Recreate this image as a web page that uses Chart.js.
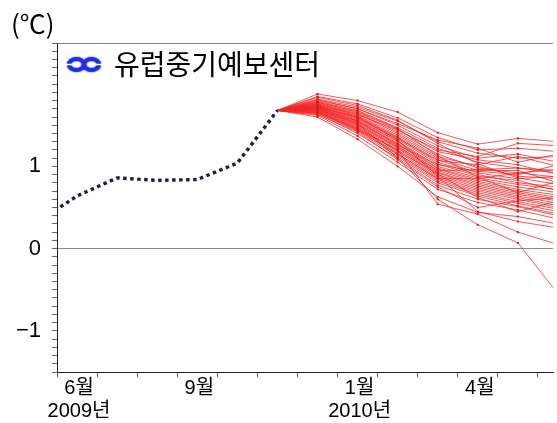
<!DOCTYPE html>
<html><head><meta charset="utf-8">
<script src="https://cdn.jsdelivr.net/npm/chart.js@4.4.1/dist/chart.umd.min.js"></script>
<style>html,body{margin:0;padding:0;background:#fff;overflow:hidden}#wrap{width:557px;height:423px;position:relative}</style>
</head><body><div id="wrap"><canvas id="c"></canvas></div>
<script>
// ---- data ----
const obsMonths = ['2009-05','2009-06','2009-07','2009-08','2009-09','2009-10','2009-11'];
const obsValues = [0.32, 0.64, 0.86, 0.83, 0.84, 1.04, 1.68];
const fcstMonths = ['2009-12','2010-01','2010-02','2010-03','2010-04','2010-05','2010-06'];
const members = [
  [1.88,1.80,1.66,1.41,1.27,1.34,1.30],
  [1.85,1.76,1.59,1.35,1.20,1.22,1.18],
  [1.82,1.72,1.55,1.30,1.16,1.10,1.12],
  [1.80,1.70,1.50,1.25,1.10,1.15,1.05],
  [1.79,1.68,1.47,1.22,1.05,0.98,0.95],
  [1.78,1.66,1.45,1.18,1.08,1.02,0.90],
  [1.77,1.65,1.42,1.15,0.98,0.92,0.96],
  [1.76,1.64,1.40,1.12,1.00,0.88,0.85],
  [1.76,1.62,1.38,1.10,0.95,0.95,0.80],
  [1.75,1.61,1.36,1.08,0.92,0.85,0.88],
  [1.74,1.60,1.35,1.05,0.90,0.80,0.75],
  [1.74,1.58,1.33,1.03,0.88,0.83,0.70],
  [1.73,1.57,1.31,1.00,0.86,0.78,0.72],
  [1.72,1.56,1.30,0.98,0.84,0.75,0.68],
  [1.72,1.55,1.28,0.97,0.82,0.72,0.65],
  [1.71,1.54,1.27,0.95,0.80,0.70,0.62],
  [1.70,1.53,1.25,0.93,0.78,0.68,0.60],
  [1.70,1.52,1.23,0.92,0.76,0.66,0.58],
  [1.69,1.50,1.22,0.90,0.74,0.64,0.55],
  [1.68,1.49,1.20,0.88,0.72,0.62,0.52],
  [1.68,1.48,1.18,0.86,0.70,0.60,0.50],
  [1.67,1.46,1.16,0.84,0.68,0.57,0.48],
  [1.66,1.45,1.14,0.82,0.66,0.55,0.45],
  [1.65,1.43,1.12,0.80,0.64,0.52,0.42],
  [1.64,1.40,1.10,0.77,0.60,0.51,0.40],
  [1.62,1.37,1.05,0.72,0.56,0.47,0.36],
  [1.60,1.33,1.00,0.63,0.44,0.39,0.30],
  [1.66,1.45,1.20,0.54,0.42,0.20,0.05],
  [1.70,1.52,1.10,0.60,0.29,0.07,-0.55],
  [1.75,1.63,1.44,1.20,1.12,1.28,1.25],
  [1.81,1.70,1.52,1.32,1.22,1.05,1.15],
  [1.73,1.59,1.34,1.07,1.02,1.12,1.00],
  [1.71,1.55,1.26,1.02,0.94,0.90,1.02],
  [1.69,1.51,1.24,0.95,0.96,0.98,0.92],
  [1.67,1.47,1.19,0.91,0.62,0.45,0.58],
  [1.63,1.42,1.08,0.75,0.50,0.58,0.62],
  [1.72,1.60,1.32,0.88,0.45,0.33,0.25],
  [1.78,1.67,1.46,1.13,0.87,0.68,0.82],
  [1.84,1.74,1.56,1.28,1.03,0.86,0.78],
  [1.65,1.44,1.15,0.85,0.85,0.92,0.87]
];
const axisMonths = ['2009-06','2009-09','2010-01','2010-04'];
const axisMonthLabels = ['6월','9월','1월','4월'];
const axisYearLabels = ['2009년','','2010년',''];
const yTickLabels = {'1':'1','0':'0','-1':'−1'};
const unitLabel = '(℃)';
const titleText = '유럽중기예보센터';

// month string -> month index from June 2009
function mIdx(s){const [y,m]=s.split('-').map(Number);return (y-2009)*12+(m-6);}
const obsData = obsMonths.map((m,i)=>({x:mIdx(m)+0.5,y:obsValues[i]}));
const lastObs = obsData[obsData.length-1];

const datasets = [{
  data: obsData, borderColor:'#1c1c50', borderWidth:3.4, borderDash:[3.5,3.5],
  borderCapStyle:'butt', pointRadius:0, tension:0, order:0
}];
members.forEach(mv=>{
  datasets.push({
    data:[{x:lastObs.x,y:lastObs.y}].concat(fcstMonths.map((m,i)=>({x:mIdx(m)+0.5,y:mv[i]}))),
    borderColor:'rgba(242,38,38,0.78)', borderWidth:1, tension:0,
    pointStyle:'rect', pointRadius:c=>c.dataIndex===0?0:1.4,
    pointBackgroundColor:'#dd1818', pointBorderWidth:0, order:1
  });
});

const labelPos = axisMonths.map(m=>mIdx(m)+0.55);

const deco = {
  id:'deco',
  afterDraw(chart){
    const ctx=chart.ctx; ctx.save();
    ctx.fillStyle='#000'; ctx.textBaseline='middle';
    ctx.font="26px 'Noto Sans CJK KR', sans-serif";
    ctx.fillText(unitLabel, 11, 24);
    ctx.font="28px 'Noto Sans CJK KR', sans-serif";
    ctx.fillText(titleText, 114, 64);
    // logo
    ctx.strokeStyle='#1f2fe0'; ctx.lineWidth=4.2; ctx.shadowColor='#3344ff'; ctx.shadowBlur=2;
    ctx.beginPath(); ctx.ellipse(76.5,64.5,7.5,5.5,0,0,Math.PI*2); ctx.stroke();
    ctx.beginPath(); ctx.ellipse(91.5,64.5,7.5,5.5,0,0,Math.PI*2); ctx.stroke();
    ctx.shadowBlur=0; ctx.strokeStyle='#fff'; ctx.lineWidth=1.6;
    ctx.beginPath(); ctx.moveTo(66,64.5); ctx.lineTo(73,64.5); ctx.moveTo(95,64.5); ctx.lineTo(102,64.5); ctx.stroke();
    ctx.restore();
  }
};

new Chart(document.getElementById('c'),{
  type:'line',
  data:{datasets},
  plugins:[deco],
  options:{
    responsive:true, maintainAspectRatio:false, animation:false, devicePixelRatio:1,
    layout:{padding:{top:43,left:0,right:0,bottom:0}},
    plugins:{legend:{display:false},tooltip:{enabled:false}},
    scales:{
      x:{type:'linear', min:0, max:12.376,
        afterBuildTicks(s){
          const t=[]; for(let i=0;i<=12;i++) t.push({value:i});
          labelPos.forEach(v=>t.push({value:v}));
          t.sort((a,b)=>a.value-b.value); s.ticks=t;
        },
        afterFit(s){s.height=51;},
        border:{display:true,color:'#222',width:1},
        grid:{drawOnChartArea:false, tickLength:5,
          tickColor:c=>Number.isInteger(c.tick.value)?'#555':'rgba(0,0,0,0)'},
        ticks:{autoSkip:false,maxRotation:0,padding:0,color:'#000',
          font:{family:"'Liberation Sans','Noto Sans CJK KR',sans-serif",size:20,lineHeight:1.15},
          callback(v){const k=labelPos.findIndex(p=>Math.abs(p-v)<1e-6);
            if(k<0) return ''; return axisYearLabels[k]?[axisMonthLabels[k],axisYearLabels[k]]:axisMonthLabels[k];}
        }
      },
      y:{min:-1.5,max:2.5,
        afterFit(s){s.width=57;},
        border:{display:true,color:'#222',width:1},
        grid:{tickLength:5, tickColor:'#666', lineWidth:1,
          color:c=>{const v=c.tick.value; if(Math.abs(v)<1e-6||Math.abs(v-2.5)<1e-6) return '#8a8a8a'; return 'rgba(0,0,0,0)';}},
        ticks:{stepSize:0.1,autoSkip:false,padding:11,color:'#000',
          font:{family:"'Liberation Sans','Noto Sans CJK KR',sans-serif",size:22},
          callback(v){const r=Math.round(v); if(Math.abs(v-r)>1e-6) return ''; return yTickLabels[String(r)]||'';}
        }
      }
    }
  }
});
</script></body></html>
